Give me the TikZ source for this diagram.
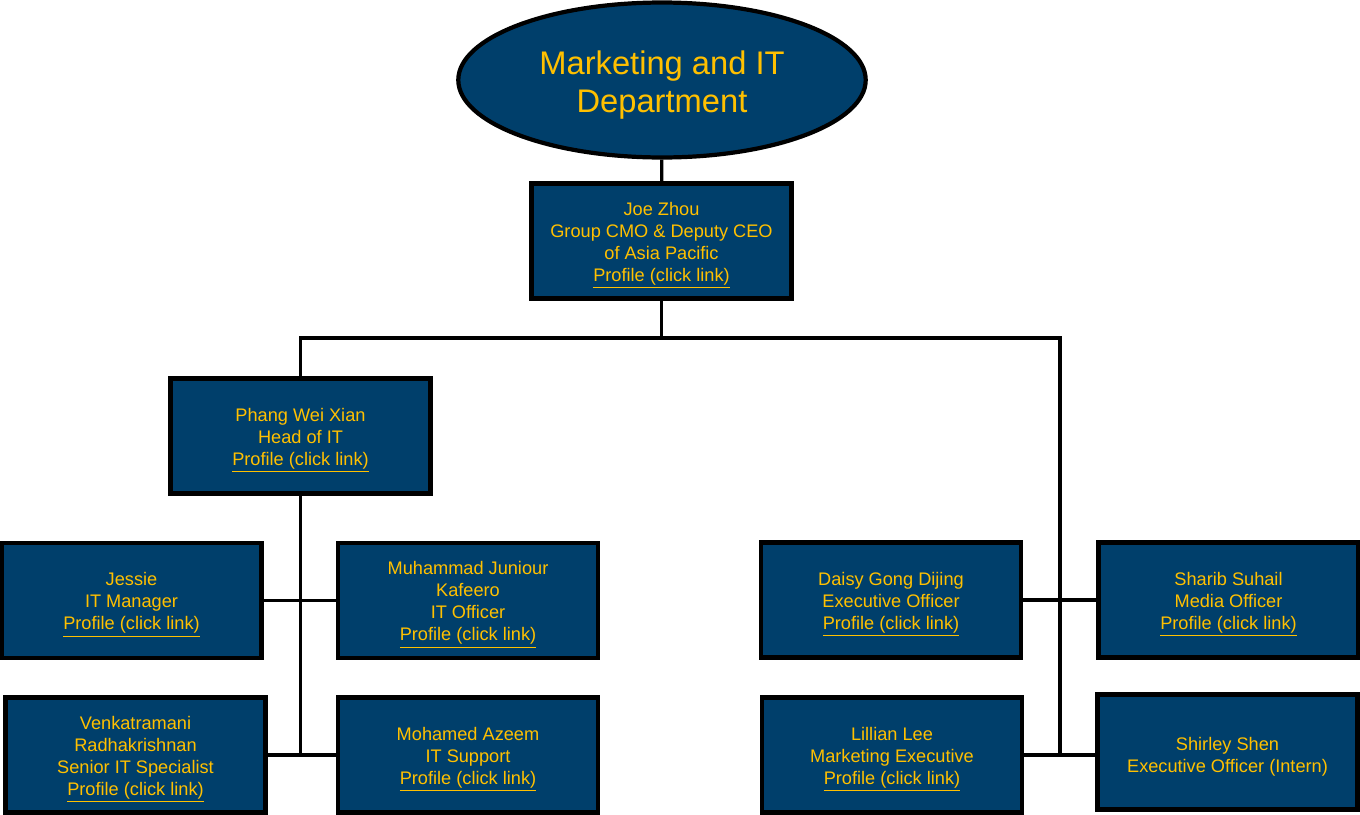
\documentclass[tikz,border=0pt]{standalone}
\usepackage{fontspec}
\setmainfont{Liberation Sans}
\usetikzlibrary{shapes.geometric}
\definecolor{deptblue}{RGB}{0,63,107}
\definecolor{deptgold}{RGB}{255,192,0}
\newcommand{\plink}{\underline{Profile (click link)}}
\newcommand{\up}[1]{\rule{0pt}{#1}}
\begin{document}
\begin{tikzpicture}[
    x=0.02cm, y=-0.02cm,
    every node/.style={font=\fontsize{10.35}{12.5}\selectfont, text=deptgold},
    staff/.style={draw=black, line width=2.4pt, fill=deptblue, minimum width=5.2cm, minimum height=2.3cm, align=center, inner sep=1pt},
    dept/.style={draw=black, line width=2.4pt, fill=deptblue, ellipse, minimum width=8.15cm, minimum height=3.1cm, align=center, font=\fontsize{18.6}{21.6}\selectfont},
    conn/.style={line width=1.8pt, black}
]
\useasboundingbox (0,0) rectangle (1360,815);

% Department
\node[dept] (dept) at (662,80) {\up{19pt}Marketing and IT\\Department};

% Head
\node[staff] (joe) at (661.5,241) {\up{12.5pt}Joe Zhou\\Group CMO \& Deputy CEO\\of Asia Pacific\\\plink};

% IT side
\node[staff] (phang) at (300.5,436) {\up{12.5pt}Phang Wei Xian\\Head of IT\\\plink};
\node[staff] (jessie) at (131.5,600.5) {\up{12.5pt}Jessie\\IT Manager\\\plink};
\node[staff] (muhammad) at (468,600.5) {\up{12.5pt}Muhammad Juniour\\Kafeero\\IT Officer\\\plink};
\node[staff] (venkat) at (135.5,755) {\up{12.5pt}Venkatramani\\Radhakrishnan\\Senior IT Specialist\\\plink};
\node[staff] (mohamed) at (468,755) {\up{12.5pt}Mohamed Azeem\\IT Support\\\plink};

% Marketing side
\node[staff] (daisy) at (891,600) {\up{12.5pt}Daisy Gong Dijing\\Executive Officer\\\plink};
\node[staff] (sharib) at (1228.5,600) {\up{12.5pt}Sharib Suhail\\Media Officer\\\plink};
\node[staff] (lillian) at (892,755) {\up{12.5pt}Lillian Lee\\Marketing Executive\\\plink};
\node[staff] (shirley) at (1227.5,752) {\up{12.5pt}Shirley Shen\\Executive Officer (Intern)};

% Connectors
\coordinate (busL) at (300.5,338);
\coordinate (busR) at (1060,338);
\coordinate (itEnd) at (300.5,755);
\coordinate (mkEnd) at (1060,755);

\draw[conn] (dept) -- (joe);
\draw[conn] (joe.south) -- (joe.south |- busL);
\draw[conn] (phang.north) |- (busR) -- (mkEnd);
\draw[conn] (phang.south) -- (itEnd);
\draw[conn] (jessie) -- (muhammad);
\draw[conn] (venkat) -- (mohamed);
\draw[conn] (daisy) -- (sharib);
\draw[conn] (lillian.east) -- (lillian.east -| shirley.west);
\end{tikzpicture}
\end{document}
